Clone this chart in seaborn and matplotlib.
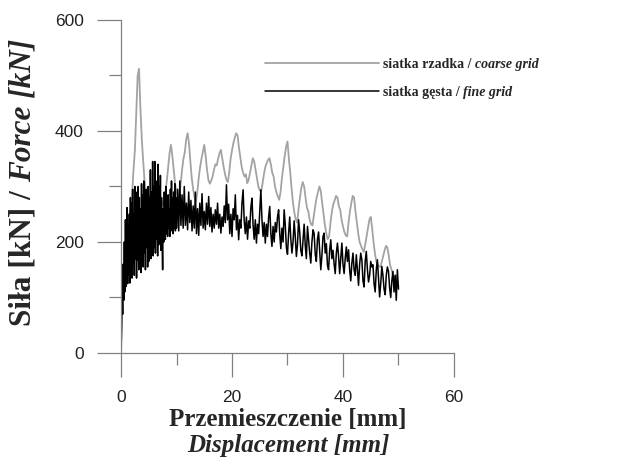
import numpy as np
import seaborn as sns
import matplotlib.pyplot as plt
from matplotlib.ticker import MultipleLocator

# force readings [kN]
# coarse grid: sampled every 0.25 mm
coarse_step = 0.25
coarse_force = [
    0,
    80, 150, 190, 215, 235, 250, 262, 285,            # 0.25 - 2
    330, 365, 430, 500, 512, 440, 385, 345,           # 2.25 - 4
    310, 290, 280, 272, 285, 270, 282, 295,           # 4.25 - 6
    285, 300, 290, 280, 275, 268, 265, 290,           # 6.25 - 8
    310, 335, 360, 375, 355, 330, 305, 290,           # 8.25 - 10
    282, 285, 305, 330, 350, 362, 385, 396,           # 10.25 - 12
    378, 345, 315, 295, 280, 273, 290, 315,           # 12.25 - 14
    335, 350, 362, 375, 355, 330, 312, 305,           # 14.25 - 16
    310, 318, 330, 340, 338, 350, 360, 366,           # 16.25 - 18
    350, 335, 322, 312, 308, 325, 350, 365,           # 18.25 - 20
    378, 388, 396, 392, 370, 352, 335, 325,           # 20.25 - 22
    318, 322, 306, 312, 325, 338, 351, 345,           # 22.25 - 24
    330, 315, 300, 293, 291, 305, 322, 335,           # 24.25 - 26
    342, 348, 351, 340, 325, 318, 300, 290,           # 26.25 - 28
    282, 276, 290, 315, 335, 355, 372, 381,           # 28.25 - 30
    350, 325, 295, 270, 252, 240, 235, 260,           # 30.25 - 32
    280, 298, 308, 300, 280, 262, 255, 240,           # 32.25 - 34
    232, 230, 248, 265, 280, 290, 300, 292,           # 34.25 - 36
    270, 250, 230, 215, 205, 210, 235, 255,           # 36.25 - 38
    268, 275, 283, 280, 265, 258, 240, 228,           # 38.25 - 40
    218, 212, 210, 235, 255, 270, 283, 280,           # 40.25 - 42
    255, 235, 215, 200, 193, 187, 182, 195,           # 42.25 - 44
    210, 225, 240, 245, 225, 200, 180, 165,           # 44.25 - 46
    160, 156, 155, 165, 175, 185, 193, 190,           # 46.25 - 48
    175, 158, 150, 140, 135, 140, 125, 120,           # 48.25 - 50
]

# fine grid: every 0.1 mm up to 9.9 mm, then every 0.2 mm from 10 mm
fine_force_start = [
    0, 45, 110, 70, 160, 95, 200, 110, 240, 120,        # 0 - 0.9
    200, 262, 125, 233, 140, 250, 126, 280, 150, 270,   # 1.0 - 1.9
    135, 295, 160, 250, 140, 300, 170, 265, 135, 290,   # 2.0 - 2.9
    168, 300, 150, 280, 175, 260, 145, 305, 165, 285,   # 3.0 - 3.9
    155, 310, 180, 270, 150, 295, 190, 265, 155, 300,   # 4.0 - 4.9
    165, 280, 185, 330, 170, 290, 200, 345, 175, 300,   # 5.0 - 5.9
    190, 345, 180, 310, 205, 290, 175, 340, 195, 300,   # 6.0 - 6.9
    210, 320, 185, 280, 205, 150, 260, 200, 290, 215,   # 7.0 - 7.9
    205, 300, 215, 270, 210, 285, 225, 260, 210, 295,   # 8.0 - 8.9
    220, 310, 230, 280, 215, 290, 225, 305, 220, 280,   # 9.0 - 9.9
]
fine_force_rest = [
    225,                                                # 10.0
    295, 220, 310, 230, 285, 225, 300, 230, 270, 222,
    290, 235, 275, 220, 265, 225, 290, 215, 260, 212,   # 10.2 - 14
    270, 230, 287, 225, 255, 222, 270, 232, 282, 228,
    262, 218, 250, 225, 258, 232, 270, 225, 250, 216,
    245, 228, 265, 235, 303, 240, 268, 215, 250, 210,   # 14.2 - 20
    260, 240, 285, 222, 248, 204, 240, 225, 270, 294,
    238, 215, 245, 205, 238, 225, 262, 279, 230, 205,
    240, 198, 232, 215, 255, 294, 240, 210, 235, 198,   # 20.2 - 26
    232, 210, 245, 264, 215, 192, 228, 200, 235, 218,
    245, 258, 215, 188, 225, 200, 258, 230, 190, 178,   # 26.2 - 30
    215, 245, 205, 180, 200, 238, 210, 174, 195, 240,
    218, 185, 175, 205, 232, 194, 170, 228, 205, 180,
    162, 200, 222, 215, 178, 165, 205, 218, 185, 150,   # 30.2 - 36
    175, 210, 216, 180, 197, 158, 150, 185, 204, 170,
    185, 160, 143, 180, 198, 175, 143, 170, 198, 160,
    143, 170, 191, 165, 186, 150, 130, 162, 180, 150,   # 36.2 - 42
    140, 177, 150, 122, 160, 180, 168, 130, 119, 165,
    183, 150, 128, 140, 165, 155, 159, 125, 110, 150,
    168, 135, 101, 125, 156, 140, 115, 105, 140, 155,
    147, 118, 100, 130, 147, 110, 140, 95, 150, 115,    # 42.2 - 50
]

coarse_disp = np.arange(len(coarse_force)) * coarse_step
fine_disp = np.concatenate([np.arange(len(fine_force_start)) * 0.1,
                            10.0 + np.arange(len(fine_force_rest)) * 0.2])
fine_force = fine_force_start + fine_force_rest

# labels: upright bold part + bold italic part
legend_pl = ["siatka rzadka /", "siatka gęsta /"]
legend_en = ["coarse grid", "fine grid"]
ylabel_pl, ylabel_en = "Siła [kN] /", "Force [kN]"
xlabel_pl, xlabel_en = "Przemieszczenie [mm]", "Displacement [mm]"

sns.set_style("ticks")
plt.rcParams["font.family"] = ["Liberation Sans", "DejaVu Sans"]

spine_col = "#808080"
serif = {"family": "Liberation Serif", "weight": "bold"}

fig = plt.figure(figsize=(6.18, 4.66), dpi=100)
ax = fig.add_axes([0.1958, 0.2425, 0.5388, 0.7146])

sns.lineplot(x=coarse_disp, y=coarse_force, color="#a3a3a3", lw=1.3,
             estimator=None, sort=False, label=legend_pl[0], ax=ax)
sns.lineplot(x=fine_disp, y=fine_force, color="black", lw=1.1,
             estimator=None, sort=False, label=legend_pl[1], ax=ax)

ax.set_xlim(0, 60)
ax.set_ylim(0, 600)
ax.xaxis.set_major_locator(MultipleLocator(20))
ax.xaxis.set_minor_locator(MultipleLocator(10))
ax.yaxis.set_major_locator(MultipleLocator(200))
ax.yaxis.set_minor_locator(MultipleLocator(100))

sns.despine(ax=ax)
for s in ["left", "bottom"]:
    ax.spines[s].set_color(spine_col)
    ax.spines[s].set_linewidth(0.9)

ax.tick_params(which="major", direction="out", length=17, width=0.9,
               color=spine_col, labelsize=12.5, labelcolor="#222222")
ax.tick_params(which="minor", direction="out", length=8.5, width=0.9, color=spine_col)
ax.tick_params(axis="y", which="major", pad=10)
ax.tick_params(axis="x", which="major", pad=10)
ax.set_xlabel("")
ax.set_ylabel("")

leg_size = 10
leg = ax.legend(loc="upper left", bbox_to_anchor=(258 / 618, 1 - 51 / 466),
                bbox_transform=fig.transFigure, frameon=False, borderpad=0,
                handlelength=8.2, handletextpad=0.27, labelspacing=1.1,
                prop={"family": "Liberation Serif", "weight": "bold", "size": leg_size})

# x label, two lines
fig.text(288 / 618, 1 - 408 / 466, xlabel_pl, ha="center", va="top", fontsize=18, **serif)
fig.text(288 / 618, 1 - 434 / 466, xlabel_en, ha="center", va="top", fontsize=18,
         style="italic", **serif)

# y label, rotated
ylab_size = 22.5
y_first = fig.text(23 / 618, 1 - 326 / 466, ylabel_pl, rotation=90, ha="center",
                   va="bottom", fontsize=ylab_size, **serif)

fig.canvas.draw()
rend = fig.canvas.get_renderer()
to_fig = fig.transFigure.inverted()

bb = y_first.get_window_extent(rend)
gap = 0.25 * ylab_size * fig.dpi / 72
fx, fy = to_fig.transform((bb.x0 + bb.width / 2, bb.y1 + gap))
fig.text(fx, fy, ylabel_en, rotation=90, ha="center", va="bottom",
         fontsize=ylab_size, style="italic", **serif)

gap = 0.25 * leg_size * fig.dpi / 72
for t, extra in zip(leg.get_texts(), legend_en):
    bb = t.get_window_extent(rend)
    fx, fy = to_fig.transform((bb.x1 + gap, bb.y0))
    fig.text(fx, fy, extra, ha="left", va="bottom", fontsize=leg_size,
             style="italic", **serif)

fig.savefig("out.png", dpi=100)
